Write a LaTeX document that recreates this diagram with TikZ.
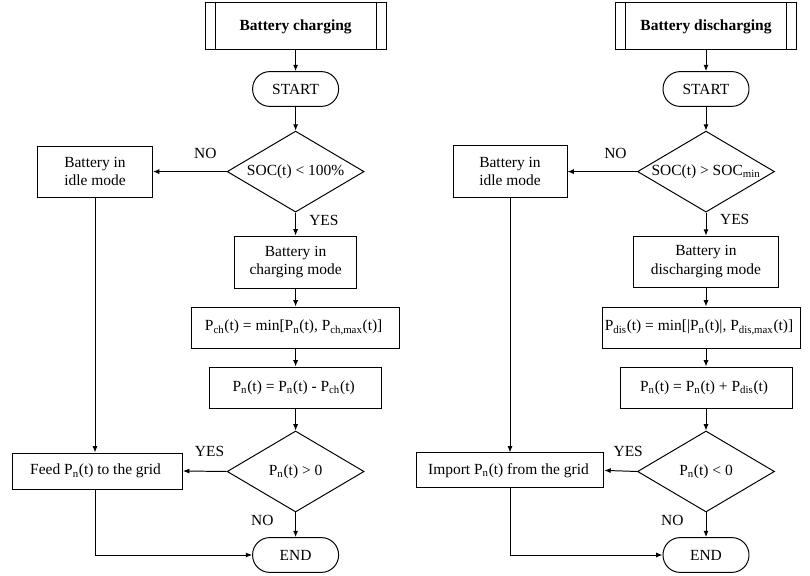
\documentclass[tikz,border=0pt]{standalone}
\usepackage{fontspec}
\setmainfont{Liberation Serif}
\usetikzlibrary{shapes.geometric,arrows.meta}

\newcommand{\dtext}[1]{\makebox[0pt]{#1}}

\begin{document}
\begin{tikzpicture}[
	line width=0.7pt,
	every node/.style={font=\fontsize{11}{13}\selectfont},
	box/.style={draw, align=center, inner sep=2pt},
	term/.style={draw, rounded corners=0.43cm, minimum width=2.15cm, minimum height=0.87cm},
	decision/.style={draw, diamond, inner sep=0pt, minimum width=3.425cm, minimum height=2.025cm},
	title/.style={draw, minimum width=4.525cm, minimum height=1.175cm, font=\fontsize{11}{13}\selectfont\bfseries,
		path picture={
			\draw ([xshift=0.25cm]path picture bounding box.north west)--([xshift=0.25cm]path picture bounding box.south west);
			\draw ([xshift=-0.25cm]path picture bounding box.north east)--([xshift=-0.25cm]path picture bounding box.south east);
		}},
	lbl/.style={inner sep=0pt},
	flow/.style={-{Latex[length=4.5pt,width=3.6pt]}}
	]
	  \useasboundingbox (0,0) rectangle (20.25,14.4);

	  % charging
	  \node [ title ] (title1) at (7.39,13.74) { Battery charging };
	  \node [ term ] (start1) at (7.39,12.175) { START };
	  \node [ decision ] (dec1) at (7.39,10.11) { \dtext{SOC(t) < 100\%} };
	  \node [ box, minimum width=2.875cm, minimum height=1.275cm ] (idle1) at (2.375,10.11) { Battery in\\idle mode };
	  \node [ box, minimum width=3.05cm, minimum height=1.3cm ] (chg) at (7.39,7.85) { Battery in\\charging mode };
	  \node [ box, minimum width=5.2cm, minimum height=1.025cm ] (pch) at (7.39,6.2125) { P\textsubscript{ch}(t) = min[P\textsubscript{n}(t), P\textsubscript{ch,max}(t)] };
	  \node [ box, minimum width=4.3cm, minimum height=1.025cm ] (pn1) at (7.39,4.7125) { P\textsubscript{n}(t) = P\textsubscript{n}(t) - P\textsubscript{ch}(t) };
	  \node [ decision ] (dec2) at (7.39,2.6125) { \dtext{P\textsubscript{n}(t) > 0} };
	  \node [ box, minimum width=4.25cm, minimum height=0.9cm ] (feed) at (2.4375,2.625) { Feed P\textsubscript{n}(t) to the grid };
	  \node [ term ] (end1) at (7.39,0.525) { END };

	  \draw [flow] (title1)--(start1);
	  \draw [flow] (start1)--(dec1);
	  \draw [flow] (dec1.west)--(idle1.east) node [ lbl, pos=0.29, above=0.31cm ] (no1) { NO };
	  \draw [flow] (dec1.south)--(chg.north) node [ lbl, pos=0.33, right=0.33cm ] (yes1) { YES };
	  \draw [flow] (chg)--(pch);
	  \draw [flow] (pch)--(pn1);
	  \draw [flow] (pn1)--(dec2);
	  \draw [flow] (dec2.west)--(feed.east) node [ lbl, pos=0.39, above=0.36cm ] (yes2) { YES };
	  \draw [flow] (dec2.south)--(end1.north) node [ lbl, pos=0.32, left=0.54cm ] (no2) { NO };
	  \draw [flow] (idle1.south)--(idle1.south |- feed.north);
	  \draw [flow] (idle1.south |- feed.south) |- (end1.west);

	  % discharging
	  \node [ title ] (title2) at (17.65,13.74) { Battery discharging };
	  \node [ term ] (start2) at (17.65,12.175) { START };
	  \node [ decision ] (dec3) at (17.65,10.11) { \dtext{SOC(t) > SOC\textsubscript{min}} };
	  \node [ box, minimum width=2.85cm, minimum height=1.3cm ] (idle2) at (12.75,10.11) { Battery in\\idle mode };
	  \node [ box, minimum width=3.625cm, minimum height=1.275cm ] (dchg) at (17.65,7.86) { Battery in\\discharging mode };
	  \node [ box, minimum width=4.95cm, minimum height=1.025cm ] (pdis) at (17.525,6.2125) { P\textsubscript{dis}(t) = min[|P\textsubscript{n}(t)|, P\textsubscript{dis,max}(t)] };
	  \node [ box, minimum width=4.3cm, minimum height=1.025cm ] (pn2) at (17.65,4.7125) { P\textsubscript{n}(t) = P\textsubscript{n}(t) + P\textsubscript{dis}(t) };
	  \node [ decision ] (dec4) at (17.65,2.6125) { \dtext{P\textsubscript{n}(t) < 0} };
	  \node [ box, minimum width=4.675cm, minimum height=0.875cm ] (imp) at (12.76,2.64) { Import P\textsubscript{n}(t) from the grid };
	  \node [ term ] (end2) at (17.65,0.525) { END };

	  \draw [flow] (title2)--(start2);
	  \draw [flow] (start2)--(dec3);
	  \draw [flow] (dec3.west)--(idle2.east) node [ lbl, pos=0.31, above=0.31cm ] (no3) { NO };
	  \draw [flow] (dec3.south)--(dchg.north) node [ lbl, pos=0.29, right=0.34cm ] (yes3) { YES };
	  \draw [flow] (dchg.south)--(dchg.south |- pdis.north);
	  \draw [flow] (pn2.north |- pdis.south)--(pn2.north);
	  \draw [flow] (pn2)--(dec4);
	  \draw [flow] (dec4.west)--(imp.east) node [ lbl, pos=0.27, above=0.36cm ] (yes4) { YES };
	  \draw [flow] (dec4.south)--(end2.north) node [ lbl, pos=0.32, left=0.55cm ] (no4) { NO };
	  \draw [flow] (idle2.south)--(idle2.south |- imp.north);
	  \draw [flow] (idle2.south |- imp.south) |- (end2.west);
	\end{tikzpicture}
\end{document}
